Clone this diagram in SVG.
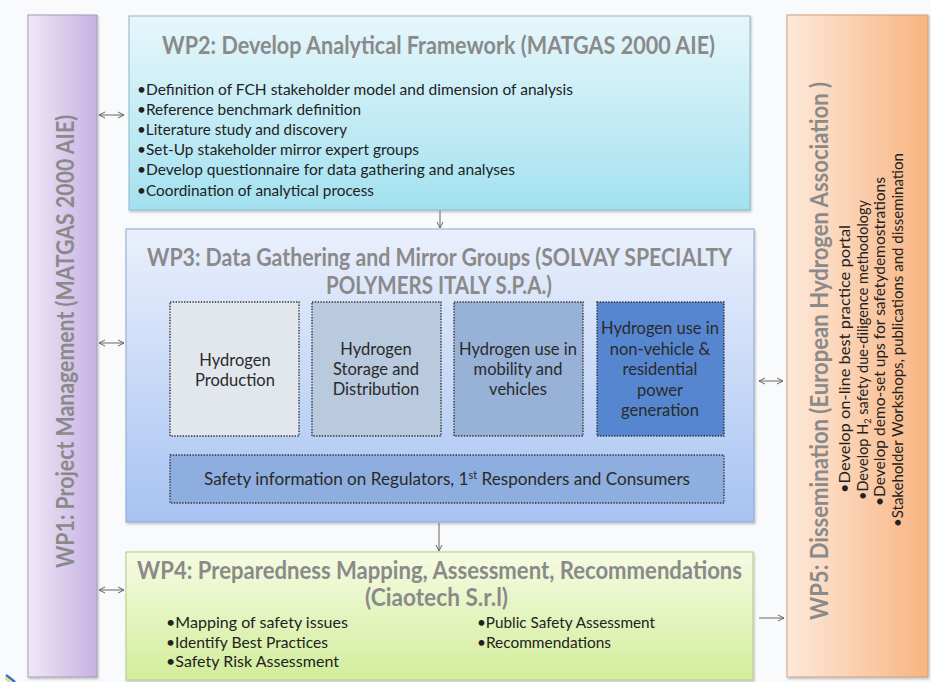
<svg xmlns="http://www.w3.org/2000/svg" width="931" height="682" viewBox="0 0 931 682">
  <defs>
    <linearGradient id="gWP1" x1="0" y1="0" x2="1" y2="0">
      <stop offset="0" stop-color="#efe8f7"/>
      <stop offset="1" stop-color="#c7b1e2"/>
    </linearGradient>
    <linearGradient id="gWP2" x1="0" y1="0" x2="0" y2="1">
      <stop offset="0" stop-color="#e7f7fb"/>
      <stop offset="1" stop-color="#a3e1f0"/>
    </linearGradient>
    <linearGradient id="gWP3" x1="0" y1="0" x2="0" y2="1">
      <stop offset="0" stop-color="#eaf0fc"/>
      <stop offset="1" stop-color="#a7c3f2"/>
    </linearGradient>
    <linearGradient id="gWP4" x1="0" y1="0" x2="0" y2="1">
      <stop offset="0" stop-color="#f6fbe3"/>
      <stop offset="1" stop-color="#d2ed9b"/>
    </linearGradient>
    <linearGradient id="gWP5" x1="0" y1="0" x2="1" y2="0">
      <stop offset="0" stop-color="#fde9da"/>
      <stop offset="1" stop-color="#f8b482"/>
    </linearGradient>
    <filter id="shadow" x="-5%" y="-5%" width="110%" height="110%">
      <feDropShadow dx="1" dy="1.5" stdDeviation="1" flood-color="#000" flood-opacity="0.25"/>
    </filter>
    <marker id="head" viewBox="0 0 8 8" refX="7" refY="4" markerWidth="8" markerHeight="8" markerUnits="userSpaceOnUse" orient="auto-start-reverse">
      <path d="M1,1 L7,4 L1,7" fill="none" stroke="#666" stroke-width="1"/>
    </marker>
    <style>
      .title { font-family: Lato, "Liberation Sans", sans-serif; font-weight: bold; fill: #8a8a8a; font-size: 24px; }
      .body { font-family: Lato, "Liberation Sans", sans-serif; fill: #222; font-size: 16px; }
      .inner { font-family: Lato, "Liberation Sans", sans-serif; fill: #2a2a2a; font-size: 16.5px; text-anchor: middle; }
      .narrow { font-family: Lato, "Liberation Sans", sans-serif; fill: #222; font-size: 15px; }
      .box { stroke-width: 1; filter: url(#shadow); }
      .dotted { stroke: #333; stroke-width: 1.4; stroke-dasharray: 1.4 1.4; }
      .conn { stroke: #666; stroke-width: 1; fill: none; }
    </style>
  </defs>

  <rect x="0" y="0" width="931" height="682" fill="#f9fafb"/>

  <!-- corner fragment at bottom left -->
  <path d="M6,675 L15,682" stroke="#3d6fc4" stroke-width="2.5"/>
  <path d="M5,678 L10,682" stroke="#e8d86a" stroke-width="2"/>

  <!-- WP1 -->
  <g id="wp1">
    <rect class="box" x="28" y="15" width="69" height="662" fill="url(#gWP1)" stroke="#a69bb6"/>
    <text class="title" transform="translate(74,568) rotate(-90)" textLength="453" lengthAdjust="spacingAndGlyphs">WP1: Project Management (MATGAS 2000 AIE)</text>
  </g>

  <!-- WP2 -->
  <g id="wp2">
    <rect class="box" x="129" y="16" width="621" height="194" fill="url(#gWP2)" stroke="#8fb7c6"/>
    <text class="title" x="162" y="54" textLength="553" lengthAdjust="spacingAndGlyphs">WP2: Develop Analytical Framework (MATGAS 2000 AIE)</text>
    <text class="body" x="137" y="95" textLength="436" lengthAdjust="spacingAndGlyphs">•Definition of FCH stakeholder model and dimension of analysis</text>
    <text class="body" x="137" y="115" textLength="224" lengthAdjust="spacingAndGlyphs">•Reference benchmark definition</text>
    <text class="body" x="137" y="135" textLength="210" lengthAdjust="spacingAndGlyphs">•Literature study and discovery</text>
    <text class="body" x="137" y="155" textLength="282" lengthAdjust="spacingAndGlyphs">•Set-Up stakeholder mirror expert groups</text>
    <text class="body" x="137" y="175" textLength="378" lengthAdjust="spacingAndGlyphs">•Develop questionnaire for data gathering and analyses</text>
    <text class="body" x="137" y="196" textLength="237" lengthAdjust="spacingAndGlyphs">•Coordination of analytical process</text>
  </g>

  <!-- WP3 -->
  <g id="wp3">
    <rect class="box" x="126" y="229" width="628" height="293" fill="url(#gWP3)" stroke="#8ea7d0"/>
    <text class="title" x="147" y="266" textLength="585" lengthAdjust="spacingAndGlyphs">WP3: Data Gathering and Mirror Groups (SOLVAY SPECIALTY</text>
    <text class="title" x="326" y="294" textLength="226" lengthAdjust="spacingAndGlyphs">POLYMERS ITALY S.P.A.)</text>
  </g>

  <g id="production">
    <rect class="dotted" x="170" y="302" width="129" height="134" fill="#e2e7ee"/>
    <text class="inner" x="235" y="366">Hydrogen</text>
    <text class="inner" x="235" y="386">Production</text>
  </g>
  <g id="storage">
    <rect class="dotted" x="312" y="302" width="129" height="134" fill="#b9c9de"/>
    <text class="inner" x="376" y="355">Hydrogen</text>
    <text class="inner" x="376" y="375">Storage and</text>
    <text class="inner" x="376" y="395">Distribution</text>
  </g>
  <g id="mobility">
    <rect class="dotted" x="454" y="302" width="129" height="134" fill="#97b1d7"/>
    <text class="inner" x="518" y="355">Hydrogen use in</text>
    <text class="inner" x="518" y="375">mobility and</text>
    <text class="inner" x="518" y="395">vehicles</text>
  </g>
  <g id="stationary">
    <rect class="dotted" x="597" y="302" width="127" height="134" fill="#5686d0"/>
    <text class="inner" x="660" y="334">Hydrogen use in</text>
    <text class="inner" x="660" y="355">non-vehicle &amp;</text>
    <text class="inner" x="660" y="375">residential</text>
    <text class="inner" x="660" y="396">power</text>
    <text class="inner" x="660" y="416">generation</text>
  </g>
  <g id="safety-info">
    <rect class="dotted" x="170" y="455" width="554" height="48" fill="#8eaedf"/>
    <text class="inner" x="204" y="485" style="text-anchor:start" textLength="486" lengthAdjust="spacingAndGlyphs">Safety information on Regulators, 1<tspan font-size="10.5" dy="-6">st</tspan><tspan dy="6"> Responders and Consumers</tspan></text>
  </g>

  <!-- WP4 -->
  <g id="wp4">
    <rect class="box" x="126" y="552" width="627" height="128" fill="url(#gWP4)" stroke="#b4c98c"/>
    <text class="title" x="137" y="579" textLength="605" lengthAdjust="spacingAndGlyphs">WP4: Preparedness Mapping, Assessment, Recommendations</text>
    <text class="title" x="365" y="606" textLength="143" lengthAdjust="spacingAndGlyphs">(Ciaotech S.r.l)</text>
    <text class="body" x="166" y="628" textLength="182" lengthAdjust="spacingAndGlyphs">•Mapping of safety issues</text>
    <text class="body" x="166" y="648" textLength="162" lengthAdjust="spacingAndGlyphs">•Identify Best Practices</text>
    <text class="body" x="166" y="667" textLength="173" lengthAdjust="spacingAndGlyphs">•Safety Risk Assessment</text>
    <text class="body" x="477" y="628" textLength="178" lengthAdjust="spacingAndGlyphs">•Public Safety Assessment</text>
    <text class="body" x="477" y="648" textLength="134" lengthAdjust="spacingAndGlyphs">•Recommendations</text>
  </g>

  <!-- WP5 -->
  <g id="wp5">
    <rect class="box" x="787" y="15" width="141" height="662" fill="url(#gWP5)" stroke="#cf9f7f"/>
    <text class="title" transform="translate(828,620) rotate(-90)" textLength="538" lengthAdjust="spacingAndGlyphs">WP5: Dissemination (European Hydrogen Association )</text>
    <text class="narrow" transform="translate(850,493) rotate(-90)" textLength="268" lengthAdjust="spacingAndGlyphs">•Develop on-line best practice portal</text>
    <text class="narrow" transform="translate(868,500) rotate(-90)" textLength="300" lengthAdjust="spacingAndGlyphs">•Develop H<tspan font-size="9.5" dy="3">2</tspan><tspan dy="-3"> safety due-diligence methodology</tspan></text>
    <text class="narrow" transform="translate(885,506) rotate(-90)" textLength="329" lengthAdjust="spacingAndGlyphs">•Develop demo-set ups for safetydemostrations</text>
    <text class="narrow" transform="translate(903,527) rotate(-90)" textLength="374" lengthAdjust="spacingAndGlyphs">•Stakeholder Workshops, publications and dissemination</text>
  </g>

  <!-- connectors -->
  <g id="connectors">
    <line class="conn" x1="99" y1="115" x2="124" y2="115" marker-start="url(#head)" marker-end="url(#head)"/>
    <line class="conn" x1="99" y1="343" x2="124" y2="343" marker-start="url(#head)" marker-end="url(#head)"/>
    <line class="conn" x1="99" y1="590" x2="124" y2="590" marker-start="url(#head)" marker-end="url(#head)"/>
    <line class="conn" x1="759" y1="381" x2="783" y2="381" marker-start="url(#head)" marker-end="url(#head)"/>
    <line class="conn" x1="759" y1="618" x2="784" y2="618" marker-end="url(#head)"/>
    <line class="conn" x1="440" y1="211" x2="440" y2="228" marker-end="url(#head)"/>
    <line class="conn" x1="439" y1="523" x2="439" y2="551" marker-end="url(#head)"/>
  </g>
</svg>
